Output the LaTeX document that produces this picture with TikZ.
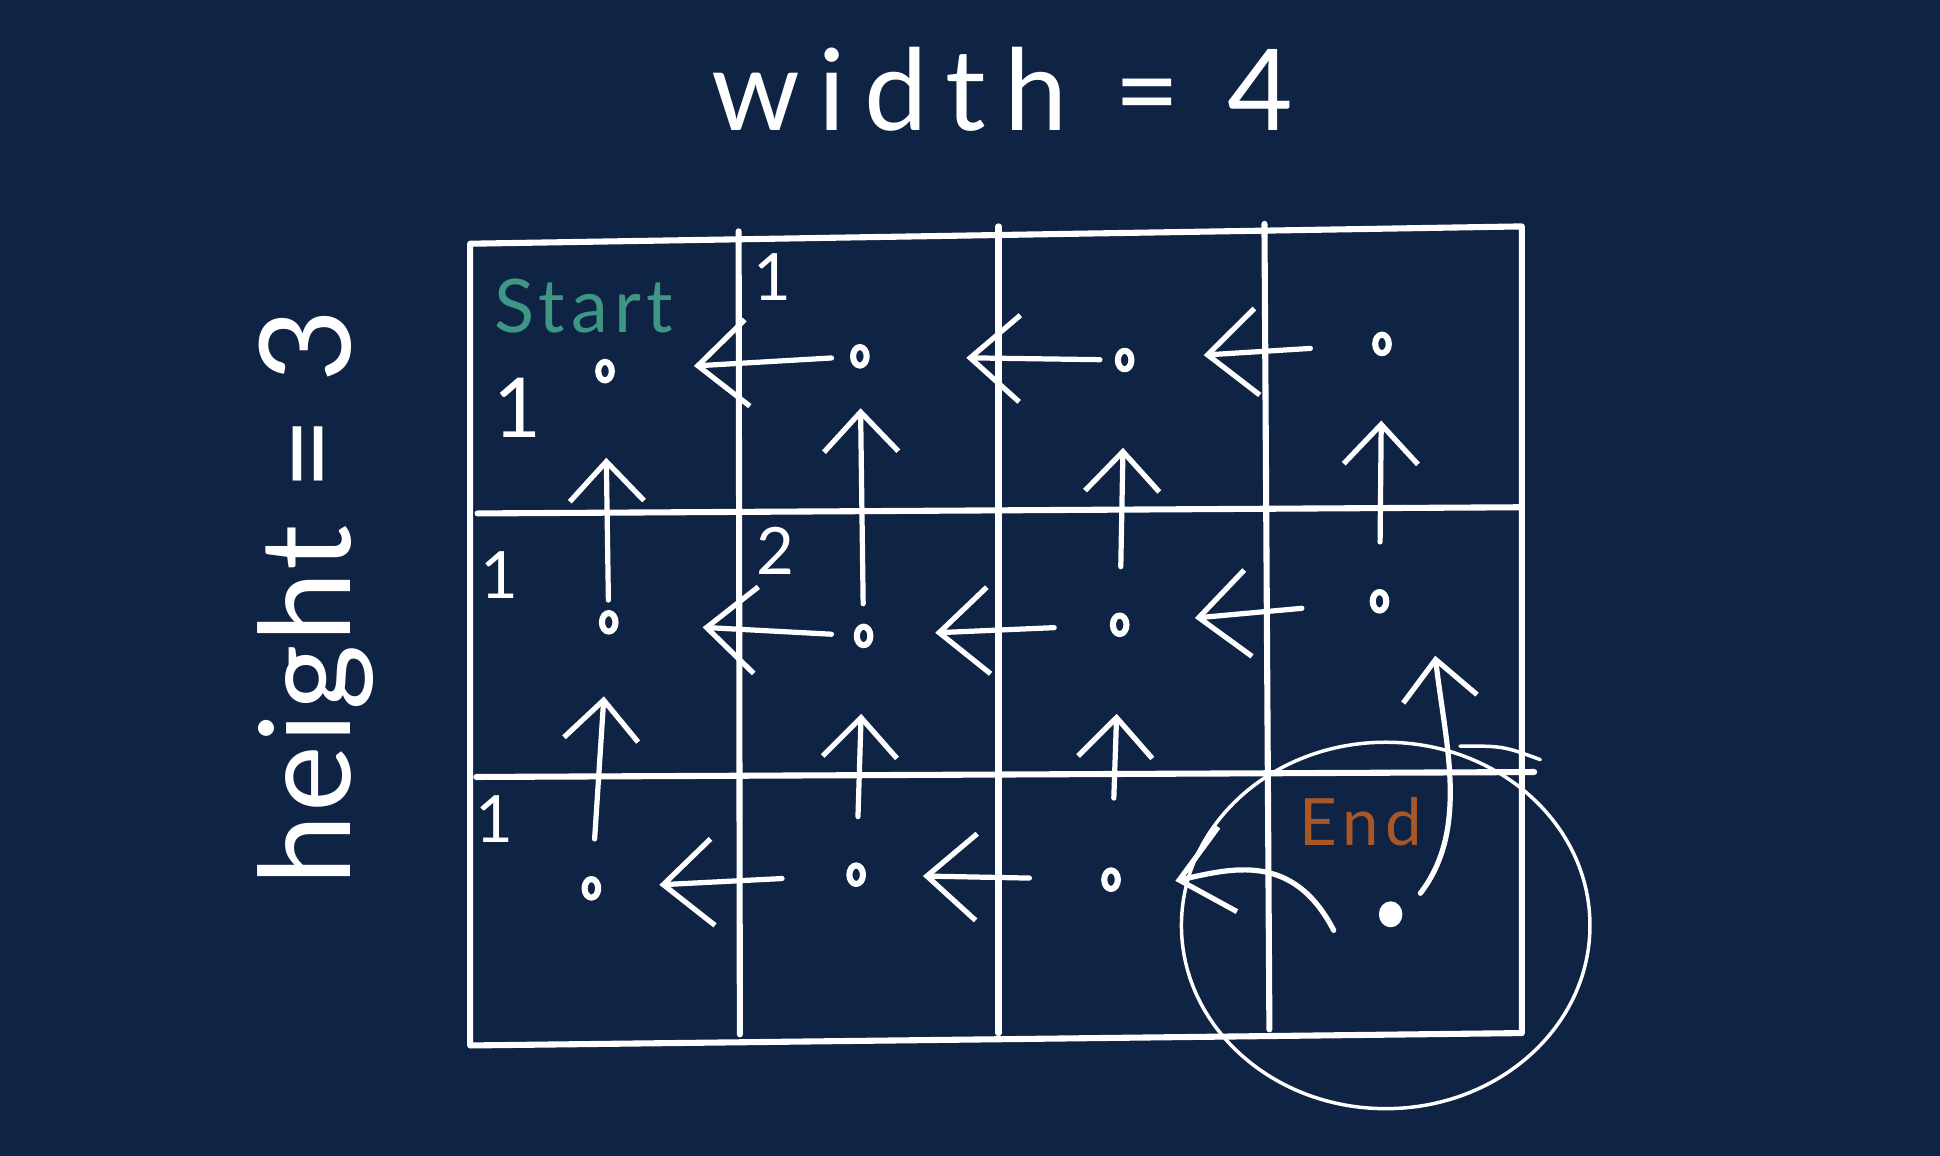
\documentclass[tikz,border=0pt]{standalone}
\usepackage{fontspec}
\setmainfont{Lato}
\newfontfamily\handfont{Lato}
\usetikzlibrary{arrows.meta,positioning,shapes.geometric}
\definecolor{board}{RGB}{15,36,68}
\definecolor{startcol}{RGB}{62,150,132}
\definecolor{endcol}{RGB}{168,88,38}
\tikzset{
  dot/.style={ellipse,draw=white,line width=1.4pt,inner sep=0pt,minimum width=1.1mm,minimum height=1.5mm},
  gridline/.style={white,line width=1.4pt},
  move/.style={white,line width=1.2pt,->},
  moveup/.style={move,-{Straight Barb[length=3.2mm,width=6mm]}},
  count/.style={text=white,font=\fontsize{15}{15}\selectfont}
}
\begin{document}
\begin{tikzpicture}[x=0.01cm,y=-0.01cm,line join=round,line cap=round,>={Straight Barb[length=4mm,width=7mm]}]
	\fill[board] (0,0) rectangle (1568,934);
	\useasboundingbox (0,0) rectangle (1568,934);
	% labels
	\node[text=white,font=\handfont\addfontfeatures{LetterSpace=16}\fontsize{26}{26}\selectfont] (wlabel) at (810,72) {width = 4};
	\node[text=white,rotate=90,font=\handfont\addfontfeatures{LetterSpace=2}\fontsize{29}{29}\selectfont] (hlabel) at (255,483) {height = 3};
	% grid
	\draw[gridline] (380,197) -- (1230,183) -- (1230,835) -- (380,845) -- cycle;
	\draw[gridline] (597,187) -- (598,836);
	\draw[gridline] (807,183) -- (807,835);
	\draw[gridline] (1022,181) -- (1026,832);
	\draw[gridline] (386,415) -- (1228,410);
	\draw[gridline] (385,628) -- (1240,624);
	% cells
	\node[dot] (d11) at (489,300) {};
	\node[dot] (d12) at (695,288) {};
	\node[dot] (d13) at (909,291) {};
	\node[dot] (d14) at (1117,278) {};
	\node[dot] (d21) at (492,503) {};
	\node[dot] (d22) at (698,514) {};
	\node[dot] (d23) at (905,505) {};
	\node[dot] (d24) at (1115,486) {};
	\node[dot] (d31) at (478,718) {};
	\node[dot] (d32) at (692,707) {};
	\node[dot] (d33) at (898,711) {};
	\node[dot,fill=white,minimum width=1.4mm,minimum height=1.6mm] (d34) at (1124,739) {};
	\node[text=startcol,font=\handfont\addfontfeatures{LetterSpace=8}\fontsize{17}{17}\selectfont] (start) at (472,247) {Start};
	\node[text=endcol,font=\handfont\addfontfeatures{LetterSpace=10}\fontsize{15}{15}\selectfont] (goal) at (1100,664) {End};
	\node[count] (n12) at (624,224) {1};
	\node[count,font=\fontsize{19}{19}\selectfont] (n11) at (418,330) {1};
	\node[count] (n21) at (404,465) {1};
	\node[count] (n22) at (627,445) {2};
	\node[count] (n31) at (400,662) {1};
	% moves to the left
	\draw[move,shorten <=0.15cm,shorten >=0.64cm] (d12) -- (d11);
	\draw[move,shorten <=0.12cm,shorten >=0.78cm] (d13) -- (d12);
	\draw[move,shorten <=0.5cm,shorten >=0.56cm] (d14) -- (d13);
	\draw[move,shorten <=0.18cm,shorten >=0.68cm] (d22) -- (d21);
	\draw[move,shorten <=0.45cm,shorten >=0.5cm] (d23) -- (d22);
	\draw[move,shorten <=0.55cm,shorten >=0.53cm] (d24) -- (d23);
	\draw[move,shorten <=0.52cm,shorten >=0.47cm] (d32) -- (d31);
	\draw[move,shorten <=0.58cm,shorten >=0.46cm] (d33) -- (d32);
	\draw[move] ([shift={(-46,13)}]d34.center) .. controls (1045,688) and (995,702) .. ([shift={(52,1)}]d33.center);
	% moves up
	\draw[moveup,shorten <=0.08cm,shorten >=0.6cm] (d21) -- (d11);
	\draw[moveup,shorten <=0.3cm,shorten >=0.5cm] (d31) -- (d21);
	\draw[moveup,shorten <=0.16cm,shorten >=0.32cm] (d22) -- (d12);
	\draw[moveup,shorten <=0.37cm,shorten >=0.53cm] (d32) -- (d22);
	\draw[moveup,shorten <=0.37cm,shorten >=0.61cm] (d23) -- (d13);
	\draw[moveup,shorten <=0.56cm,shorten >=0.62cm] (d33) -- (d23);
	\draw[moveup,shorten <=0.38cm,shorten >=0.52cm] (d24) -- (d14);
	\draw[moveup] ([shift={(24,-17)}]d34.center) .. controls (1188,670) and (1168,600) .. ([shift={(45,44)}]d24.center);
	% ring round the end
	\draw[white,line width=0.8pt] (1120,748) ellipse [x radius=1.65cm,y radius=1.48cm];
	\draw[white,line width=0.8pt] (1180,603) .. controls (1215,603) .. (1245,614);
\end{tikzpicture}
\end{document}
